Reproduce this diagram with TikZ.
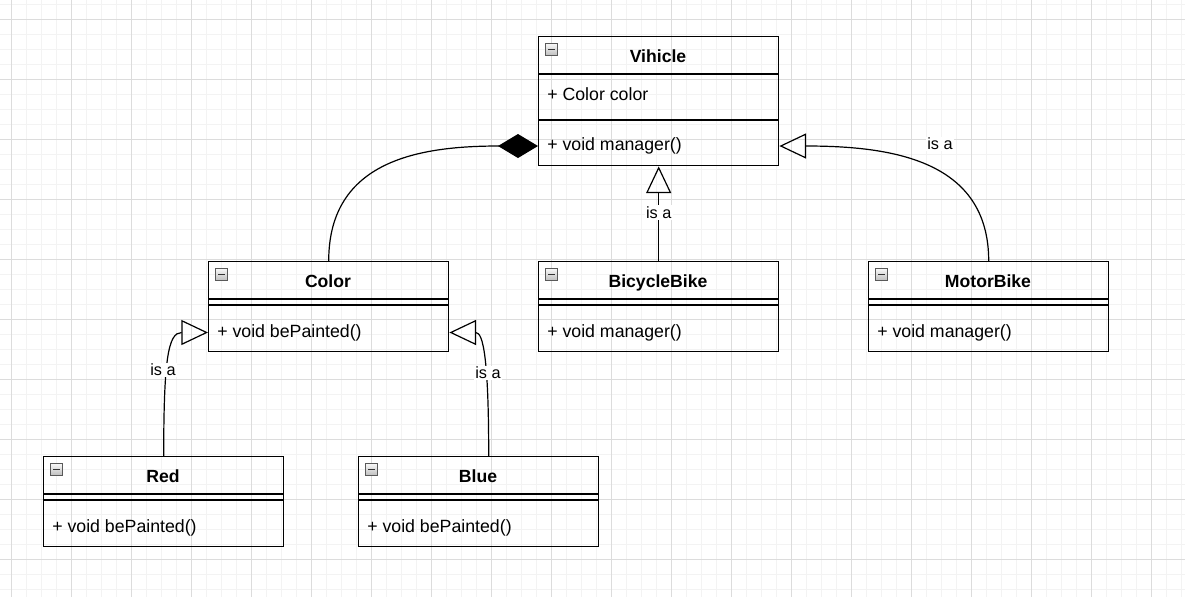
\documentclass[tikz,border=0pt]{standalone}
\usepackage{fontspec}
\setmainfont{Liberation Sans}
\usetikzlibrary{arrows.meta}
\definecolor{gridminor}{HTML}{F3F3F3}
\definecolor{gridmajor}{HTML}{DCDCDC}
\tikzset{
  box/.style={draw=black, line width=1.05pt, minimum width=180pt, inner sep=0pt, anchor=north west},
  divider/.style={line width=1.05pt},
  title/.style={font=\fontsize{13.2}{15}\selectfont\bfseries, inner sep=0pt, text height=9.6pt, text depth=2.8pt},
  member/.style={font=\fontsize{13.3}{15}\selectfont, inner sep=0pt, anchor=west, text height=9.6pt, text depth=2.8pt},
  icon/.style={draw=gray!70!black, line width=0.5pt, top color=gray!5, bottom color=gray!50,
    minimum size=9pt, inner sep=0pt, anchor=north west,
    path picture={\draw[line width=1pt, black!80]
      ([xshift=2pt]path picture bounding box.west) -- ([xshift=-2pt]path picture bounding box.east);}},
  conn/.style={line width=0.9pt},
  isa/.style={conn, -{Triangle[open, length=20pt, width=18.75pt]}},
  comp/.style={conn, -{Diamond[length=30pt, width=18pt]}},
  lbl/.style={font=\fontsize{12.2}{14}\selectfont, fill=white, inner sep=1pt},
  minorline/.style={draw=gridminor, line width=0.75pt},
  majorline/.style={draw=gridmajor, line width=0.75pt},
}
\newcommand\classbox[5]{%
  \node[box, minimum height=67.5pt] (#1) at (#2,#3) {};
  \node[icon] (#1-icon) at ({#2+7},{#3+7}) {};
  \node[title] (#1-title) at ({#2+120},{#3+21.5}) {#4};
  \draw[divider] ({#2},{#3+38}) -- ({#2+240},{#3+38});
  \draw[divider] ({#2},{#3+44}) -- ({#2+240},{#3+44});
  \node[member] (#1-m) at ({#2+9},{#3+71.5}) {#5};
}
\begin{document}
\begin{tikzpicture}[x=0.75pt, y=-0.75pt]
  \useasboundingbox (0,0) rectangle (1185,597);
  \fill[white] (0,0) rectangle (1185,597);
  % grid
  \foreach \x in {11,26,...,1181} \draw[minorline] (\x,0) -- (\x,597);
  \foreach \y in {4,19,...,596} \draw[minorline] (0,\y) -- (1185,\y);
  \foreach \x in {11,71,...,1151} \draw[majorline] (\x,0) -- (\x,597);
  \foreach \y in {19,79,...,559} \draw[majorline] (0,\y) -- (1185,\y);

  % Vihicle
  \node[box, minimum height=96.75pt] (vihicle) at (538,36) {};
  \node[icon] (vihicle-icon) at (545,43) {};
  \node[title] (vihicle-title) at (658,57.5) {Vihicle};
  \draw[divider] (538,74) -- (778,74);
  \draw[divider] (538,120) -- (778,120);
  \node[member] (vihicle-a) at (547,95.5) {+ Color color};
  \node[member] (vihicle-m) at (547,146) {+ void manager()};

  \classbox{color}{208}{261}{Color}{+ void bePainted()}
  \classbox{bicycle}{538}{261}{BicycleBike}{+ void manager()}
  \classbox{motor}{868}{261}{MotorBike}{+ void manager()}
  \classbox{red}{43}{456}{Red}{+ void bePainted()}
  \classbox{blue}{358}{456}{Blue}{+ void bePainted()}

  % connectors
  \draw[comp] (color.north) .. controls +(0,-101) and +(-118,0) .. (vihicle.west |- vihicle-m.center);
  \draw[isa] (bicycle.north) -- node[lbl, pos=0.51] (lbl-bicycle) {is a} (vihicle.south);
  \draw[isa] (motor.north) .. controls +(0,-101) and +(112,0) .. (vihicle.east |- vihicle-m.center);
  \node[lbl] (lbl-motor) at (940,144) {is a};
  \draw[isa] (red.north) .. controls +(0,-96) and +(-40,0) .. (color.west |- color-m.center);
  \node[lbl] (lbl-red) at (163,370) {is a};
  \draw[isa] ([xshift=7.5pt]blue.north) .. controls +(0,-96) and +(34,0) .. (color.east |- color-m.center);
  \node[lbl] (lbl-blue) at (488,373) {is a};
\end{tikzpicture}
\end{document}
